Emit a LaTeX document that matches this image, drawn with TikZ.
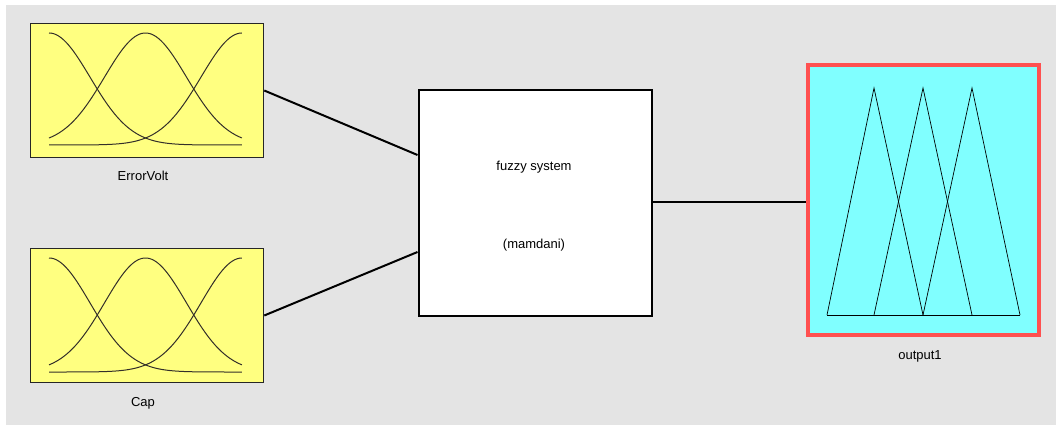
\documentclass[tikz,border=0pt]{standalone}
\usepackage{fontspec}
\setmainfont{Liberation Sans}
\usetikzlibrary{calc}
\definecolor{bg}{HTML}{E4E4E4}
\definecolor{ylw}{HTML}{FFFF80}
\definecolor{cyn}{HTML}{80FFFF}
\definecolor{redb}{HTML}{FF5050}
\newcommand\gaussmfs[4]{% x0, width, baseline, height
  \foreach \c in {0,0.5,1}{
    \draw[mfline] plot[domain=0:1, samples=80, smooth]
      ({#1+#2*\x},{#3-#4*exp(-((\x-\c)*(\x-\c))/(2*0.2123*0.2123))});
  }
}
\begin{document}
\begin{tikzpicture}[x=1pt,y=-1pt,
  inbox/.style={draw=black!85, line width=1.5pt, fill=ylw, minimum width=233pt, minimum height=134pt, inner sep=0pt},
  sysbox/.style={draw=black, line width=2pt, fill=white, minimum width=233pt, minimum height=226pt, inner sep=0pt},
  outbox/.style={draw=redb, line width=4pt, fill=cyn, minimum width=231pt, minimum height=270pt, inner sep=0pt},
  conn/.style={draw=black, line width=2pt},
  mfline/.style={draw=black!85!olive, line width=1pt},
  triline/.style={draw=black, line width=0.7pt},
  lbl/.style={font=\fontsize{13}{15}\selectfont, inner sep=0pt}]
\useasboundingbox (0,0) rectangle (1056,425);
\fill[white] (0,0) rectangle (1056,425);
\fill[bg] (6,5) rectangle (1056,425);
% boxes
\node[inbox] (ev) at (147,90.5) {};
\node[inbox] (cap) at (147,315.5) {};
\node[sysbox] (fz) at (535,203) {};
\node[outbox] (out) at (923.5,200) {};
% membership functions
\gaussmfs{49}{193}{145}{112}
\gaussmfs{49}{193}{372}{114}
\foreach \a/\b/\c in {827/874/923, 874/923/972, 923/972/1020}{
  \draw[triline] (\a,315) -- (\b,88) -- (\c,315);
}
\draw[triline] (827,315) -- (1020,315);
% labels
\node[lbl] (evl) at (143,176) {ErrorVolt};
\node[lbl] (capl) at (143,403) {Cap};
\node[lbl] (fzl1) at (534,167) {fuzzy system};
\node[lbl] (fzl2) at (534,245) {(mamdani)};
\node[lbl] (outl) at (920,356) {output1};
% connectors
\draw[conn] (ev.east) -- ($(fz.west)+(0,-48)$);
\draw[conn] (cap.east) -- ($(fz.west)+(0,49)$);
\draw[conn] ($(fz.east)+(0,-1)$) -- ($(fz.east -| out.west)+(0,-1)$);
\end{tikzpicture}
\end{document}
